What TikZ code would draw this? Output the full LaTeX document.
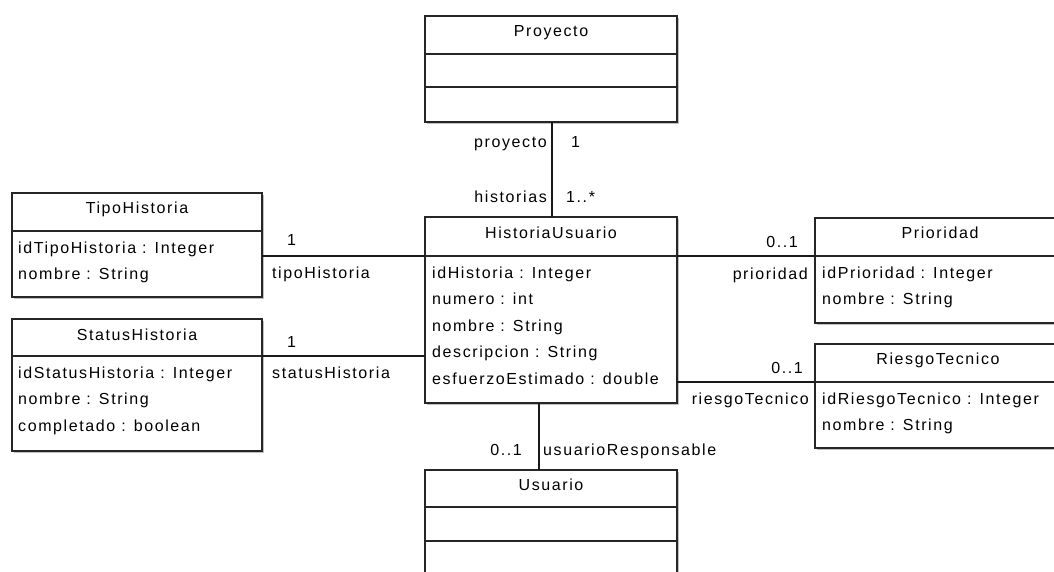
\documentclass[tikz,border=0pt]{standalone}
\usepackage{fontspec}
\setmainfont{Liberation Sans}[LetterSpace=10]
\usetikzlibrary{shadows}

\newcommand\attrlines[4]{% #1 name prefix, #2 x, #3 first baseline, #4 list
  \foreach \t [count=\i from 0] in {#4} {\node[attr] (#1-\i) at (#2, #3+26.5*\i) {\t};}}

\begin{document}
\begin{tikzpicture}[x=1pt, y=-1pt,
  font=\fontsize{16}{19}\selectfont,
  umlbox/.style={draw=black!85, line width=1.3pt, fill=white, rectangle,
    inner sep=0pt, outer sep=0pt, anchor=north west,
    drop shadow={shadow xshift=1.8pt, shadow yshift=-1.8pt, fill=black!35, opacity=0.7}},
  divider/.style={draw=black!85, line width=1.3pt},
  assoc/.style={draw=black!90, line width=1.1pt},
  title/.style={anchor=base, inner sep=0pt},
  attr/.style={anchor=base west, inner sep=0pt},
  lblw/.style={anchor=base west, inner sep=0pt},
  lble/.style={anchor=base east, inner sep=0pt}]

\useasboundingbox (0,0) rectangle (1054,572);
\clip (0,0) rectangle (1054,572);
\fill[white] (0,0) rectangle (1054,572);

% Proyecto
\node[umlbox, minimum width=252pt, minimum height=106pt] (proy) at (425,16) {};
\draw[divider] (proy.west |- 0,54) -- (proy.east |- 0,54);
\draw[divider] (proy.west |- 0,87) -- (proy.east |- 0,87);
\node[title] (proy-t) at (551,37) {Proyecto};

% HistoriaUsuario
\node[umlbox, minimum width=252pt, minimum height=186pt] (hu) at (425,217) {};
\draw[divider] (hu.west |- 0,256) -- (hu.east |- 0,256);
\node[title] (hu-t) at (551,238) {HistoriaUsuario};
\attrlines{hu}{432}{278}{idHistoria : Integer, numero : int, nombre : String, descripcion : String, esfuerzoEstimado : double}

% TipoHistoria
\node[umlbox, minimum width=250pt, minimum height=104pt] (tipo) at (12,193) {};
\draw[divider] (tipo.west |- 0,231) -- (tipo.east |- 0,231);
\node[title] (tipo-t) at (137,213) {TipoHistoria};
\attrlines{tipo}{18}{253}{idTipoHistoria : Integer, nombre : String}

% StatusHistoria
\node[umlbox, minimum width=250pt, minimum height=132pt] (stat) at (12,319) {};
\draw[divider] (stat.west |- 0,356) -- (stat.east |- 0,356);
\node[title] (stat-t) at (137,340) {StatusHistoria};
\attrlines{stat}{18}{378}{idStatusHistoria : Integer, nombre : String, completado : boolean}

% Prioridad
\node[umlbox, minimum width=250pt, minimum height=105pt] (prio) at (815,218) {};
\draw[divider] (prio.west |- 0,256) -- (prio.east |- 0,256);
\node[title] (prio-t) at (940,238) {Prioridad};
\attrlines{prio}{822}{278}{idPrioridad : Integer, nombre : String}

% RiesgoTecnico
\node[umlbox, minimum width=250pt, minimum height=104pt] (ries) at (815,344) {};
\draw[divider] (ries.west |- 0,382) -- (ries.east |- 0,382);
\node[title] (ries-t) at (938,364) {RiesgoTecnico};
\attrlines{ries}{822}{404}{idRiesgoTecnico : Integer, nombre : String}

% Usuario
\node[umlbox, minimum width=252pt, minimum height=130pt] (usu) at (425,470) {};
\draw[divider] (usu.west |- 0,507) -- (usu.east |- 0,507);
\draw[divider] (usu.west |- 0,541) -- (usu.east |- 0,541);
\node[title] (usu-t) at (551,490) {Usuario};

% associations
\draw[assoc] (proy.south -| 552,0) -- (hu.north -| 552,0);
\draw[assoc] (tipo.east |- 0,256) -- (hu.west |- 0,256);
\draw[assoc] (stat.east |- 0,356) -- (hu.west |- 0,356);
\draw[assoc] (hu.east |- 0,256) -- (prio.west |- 0,256);
\draw[assoc] (hu.east |- 0,382) -- (ries.west |- 0,382);
\draw[assoc] (hu.south -| 539,0) -- (usu.north -| 539,0);

% role names and multiplicities
\node[lble] (r-proy) at (547,148) {proyecto};
\node[lblw] (m-proy) at (571,148) {1};
\node[lble] (r-hist) at (547,203) {historias};
\node[lblw] (m-hist) at (566,203) {1..*};
\node[lblw] (m-tipo) at (287,245) {1};
\node[lblw] (r-tipo) at (272,278) {tipoHistoria};
\node[lblw] (m-stat) at (287,347) {1};
\node[lblw] (r-stat) at (272,378) {statusHistoria};
\node[lble] (m-prio) at (798,247) {0..1};
\node[lble] (r-prio) at (808,279) {prioridad};
\node[lble] (m-ries) at (803,373) {0..1};
\node[lble] (r-ries) at (809,404) {riesgoTecnico};
\node[lble] (m-usu) at (522,455) {0..1};
\node[lblw] (r-usu) at (543,455) {usuarioResponsable};
\end{tikzpicture}
\end{document}
